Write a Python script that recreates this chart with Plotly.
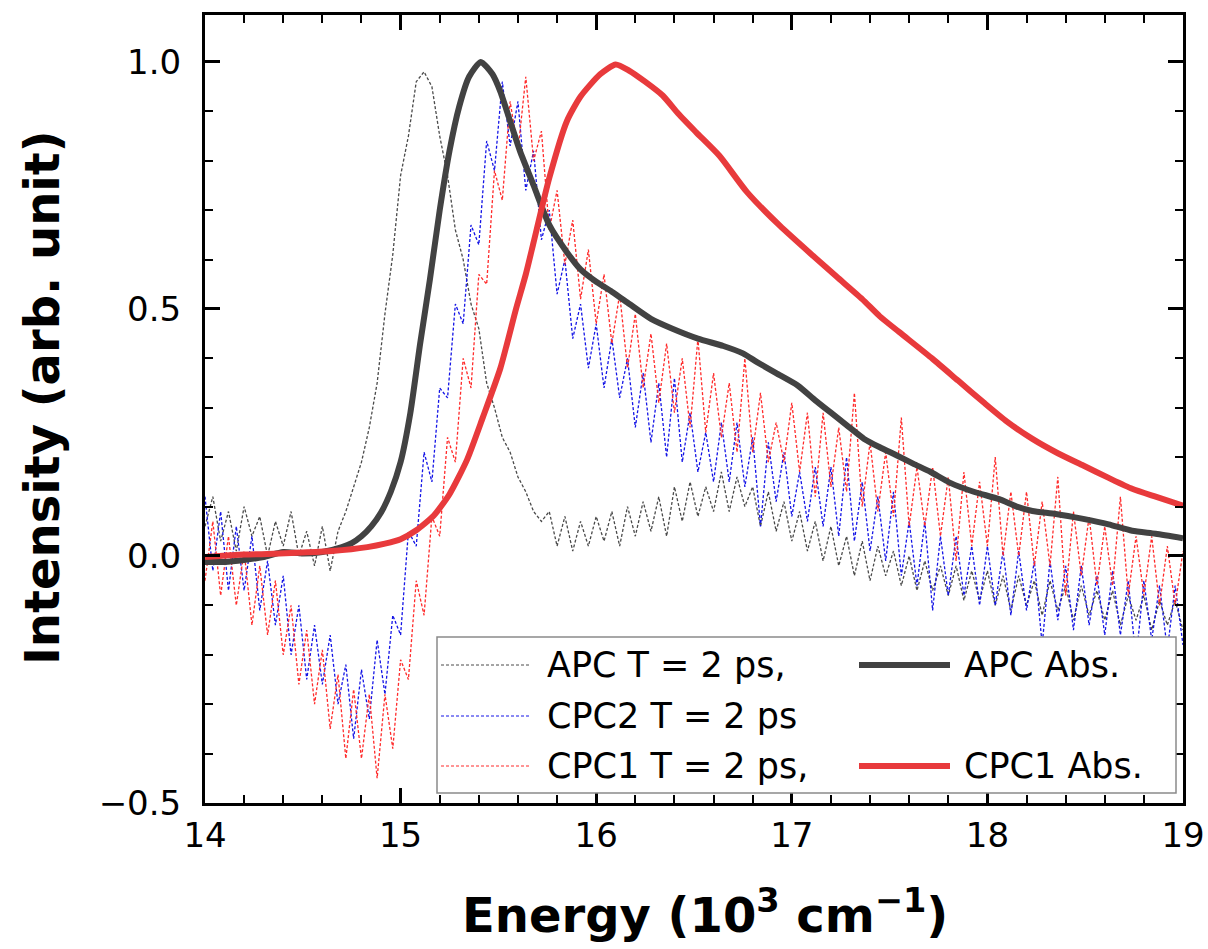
import plotly.graph_objects as go

# ---------------- data ----------------
# energy grid of the transient spectra (10^3 cm^-1), 0.04 step
energy_t = [round(14 + 0.04 * i, 2) for i in range(126)]

apc_t2 = [
    0.06, 0.12, 0.03, 0.09, 0.01, 0.10, 0.04, 0.08, 0.00, 0.07, 0.02, 0.09, 0.00, 0.05, -0.02, 0.06, -0.03, 0.05, 0.09, 0.14, 0.19, 0.26, 0.35, 0.49, 0.61,
    0.77, 0.85, 0.96, 0.98, 0.95, 0.85, 0.77, 0.66, 0.60, 0.51, 0.46, 0.35, 0.30, 0.24, 0.21, 0.16, 0.13, 0.09, 0.07, 0.09, 0.02, 0.08, 0.01, 0.07, 0.02,
    0.08, 0.03, 0.09, 0.02, 0.10, 0.04, 0.11, 0.05, 0.12, 0.04, 0.14, 0.07, 0.15, 0.08, 0.14, 0.09, 0.17, 0.09, 0.16, 0.10, 0.14, 0.06, 0.13, 0.05, 0.11,
    0.03, 0.09, 0.01, 0.07, -0.01, 0.06, -0.02, 0.04, -0.04, 0.03, -0.05, 0.02, -0.04, 0.01, -0.06, 0.00, -0.07, -0.01, -0.07, -0.02, -0.08, -0.02, -0.09, -0.03, -0.09,
    -0.03, -0.10, -0.04, -0.11, -0.04, -0.10, -0.05, -0.12, -0.05, -0.11, -0.06, -0.13, -0.06, -0.12, -0.07, -0.13, -0.07, -0.14, -0.08, -0.13, -0.08, -0.15, -0.09, -0.14, -0.09, -0.15,
]

cpc2_t2 = [
    0.12, -0.03, 0.09, -0.07, 0.06, -0.07, 0.04, -0.11, -0.01, -0.14, -0.04, -0.20, -0.10, -0.25, -0.14, -0.26, -0.16, -0.30, -0.22, -0.37, -0.23, -0.33, -0.17, -0.28, -0.12,
    -0.16, 0.05, 0.02, 0.21, 0.15, 0.34, 0.32, 0.51, 0.47, 0.67, 0.63, 0.84, 0.78, 0.96, 0.83, 0.92, 0.74, 0.82, 0.64, 0.70, 0.53, 0.60, 0.44, 0.51, 0.38,
    0.47, 0.34, 0.44, 0.32, 0.40, 0.26, 0.37, 0.23, 0.35, 0.20, 0.36, 0.19, 0.29, 0.17, 0.25, 0.15, 0.27, 0.15, 0.27, 0.14, 0.24, 0.06, 0.23, 0.11, 0.21,
    0.08, 0.17, 0.07, 0.18, 0.06, 0.18, 0.04, 0.20, 0.03, 0.15, 0.01, 0.12, -0.01, 0.13, -0.04, 0.07, -0.06, 0.07, -0.11, 0.04, -0.08, 0.04, -0.08, 0.02, -0.10,
    0.02, -0.10, 0.01, -0.12, 0.01, -0.11, -0.01, -0.18, -0.01, -0.13, -0.02, -0.15, -0.02, -0.14, -0.04, -0.16, -0.03, -0.16, -0.05, -0.21, -0.05, -0.17, -0.06, -0.19, -0.06, -0.18,
]

cpc1_t2 = [
    -0.05, 0.07, -0.08, 0.04, -0.10, 0.01, -0.14, -0.02, -0.16, -0.05, -0.20, -0.10, -0.26, -0.15, -0.30, -0.19, -0.35, -0.24, -0.41, -0.27, -0.41, -0.28, -0.45, -0.28, -0.39,
    -0.21, -0.25, -0.05, -0.12, 0.08, 0.04, 0.24, 0.19, 0.40, 0.34, 0.57, 0.55, 0.78, 0.72, 0.92, 0.82, 0.97, 0.80, 0.86, 0.66, 0.74, 0.59, 0.68, 0.52, 0.62,
    0.47, 0.57, 0.43, 0.53, 0.38, 0.49, 0.34, 0.45, 0.31, 0.43, 0.29, 0.40, 0.26, 0.44, 0.25, 0.37, 0.24, 0.35, 0.21, 0.40, 0.21, 0.33, 0.19, 0.27, 0.19,
    0.31, 0.17, 0.29, 0.12, 0.29, 0.14, 0.26, 0.13, 0.33, 0.10, 0.23, 0.09, 0.21, 0.08, 0.28, 0.06, 0.18, 0.06, 0.18, 0.04, 0.16, -0.01, 0.17, 0.02, 0.15,
    0.02, 0.20, 0.00, 0.13, 0.00, 0.13, -0.02, 0.11, -0.02, 0.16, -0.08, 0.09, -0.04, 0.08, -0.06, 0.06, -0.06, 0.12, -0.08, 0.04, -0.08, 0.04, -0.10, 0.02, -0.10, 0.01,
]

apc_abs_x = [14.00, 14.10, 14.20, 14.30, 14.40, 14.50, 14.60, 14.70, 14.75, 14.80, 14.85, 14.90, 14.95, 15.00,
             15.05, 15.10, 15.15, 15.20, 15.25, 15.30, 15.35, 15.41, 15.47, 15.51, 15.56, 15.61, 15.68, 15.76,
             15.85, 15.92, 16.00, 16.08, 16.17, 16.28, 16.39, 16.52, 16.65, 16.75, 16.82, 16.92, 17.03, 17.12,
             17.20, 17.28, 17.37, 17.45, 17.54, 17.62, 17.71, 17.81, 17.93, 18.06, 18.15, 18.23, 18.35, 18.49,
             18.62, 18.74, 18.86, 19.00]
apc_abs_y = [-0.012, -0.012, -0.008, -0.002, 0.008, 0.005, 0.008, 0.018, 0.026, 0.040, 0.060, 0.088, 0.130, 0.19,
             0.29, 0.43, 0.56, 0.70, 0.82, 0.91, 0.97, 1.00, 0.975, 0.94, 0.88, 0.82, 0.75, 0.67,
             0.615, 0.58, 0.555, 0.535, 0.51, 0.48, 0.46, 0.44, 0.425, 0.41, 0.393, 0.37, 0.345, 0.315,
             0.29, 0.265, 0.237, 0.22, 0.203, 0.187, 0.17, 0.148, 0.13, 0.115, 0.10, 0.091, 0.085, 0.075,
             0.064, 0.051, 0.045, 0.036]

cpc1_abs_x = [14.00, 14.20, 14.32, 14.50, 14.65, 14.83, 14.92, 15.00, 15.08, 15.17, 15.25, 15.34, 15.42, 15.51,
              15.59, 15.64, 15.68, 15.76, 15.85, 15.92, 16.02, 16.10, 16.17, 16.25, 16.34, 16.42, 16.51,
              16.63, 16.77, 16.94, 17.11, 17.23, 17.36, 17.45, 17.55, 17.72, 17.85, 17.98, 18.10, 18.23, 18.36,
              18.49, 18.62, 18.74, 18.86, 19.00]
cpc1_abs_y = [-0.002, 0.003, 0.004, 0.007, 0.010, 0.018, 0.025, 0.034, 0.052, 0.082, 0.125, 0.195, 0.28, 0.38,
              0.50, 0.57, 0.635, 0.765, 0.88, 0.93, 0.975, 0.995, 0.982, 0.96, 0.932, 0.895, 0.858,
              0.81, 0.737, 0.668, 0.607, 0.565, 0.52, 0.485, 0.453, 0.399, 0.355, 0.311, 0.272, 0.237, 0.208,
              0.183, 0.158, 0.136, 0.12, 0.102]

# legend labels
legend_left = ["APC T = 2 ps,", "CPC2 T = 2 ps", "CPC1 T = 2 ps,"]
legend_right = ["APC Abs.", "", "CPC1 Abs."]

# ---------------- style ----------------
C_GRAY_T = "#4a4a4a"
C_BLUE_T = "#1414e6"
C_RED_T = "#ff2a2a"
C_GRAY_ABS = "#424242"
C_RED_ABS = "#e83a3c"
DASH = "3px,2px"
FONT = "DejaVu Sans"

fig = go.Figure()
fig.add_trace(go.Scatter(x=energy_t, y=apc_t2, mode="lines", name=legend_left[0],
                         line=dict(color=C_GRAY_T, width=1.3, dash=DASH)))
fig.add_trace(go.Scatter(x=energy_t, y=cpc2_t2, mode="lines", name=legend_left[1],
                         line=dict(color=C_BLUE_T, width=1.3, dash=DASH)))
fig.add_trace(go.Scatter(x=energy_t, y=cpc1_t2, mode="lines", name=legend_left[2],
                         line=dict(color=C_RED_T, width=1.3, dash=DASH)))
fig.add_trace(go.Scatter(x=apc_abs_x, y=apc_abs_y, mode="lines", name=legend_right[0],
                         line=dict(color=C_GRAY_ABS, width=6, shape="spline", smoothing=0.6)))
fig.add_trace(go.Scatter(x=cpc1_abs_x, y=cpc1_abs_y, mode="lines", name=legend_right[2],
                         line=dict(color=C_RED_ABS, width=6, shape="spline", smoothing=0.6)))

# ---------------- manual legend (2 columns) ----------------
L, R, T, B = 205, 1183, 15, 803
def px(xp):
    return (xp - L) / (R - L)
def py(yp):
    return (B - yp) / (B - T)

shapes = [dict(type="rect", xref="paper", yref="paper",
               x0=px(437), x1=px(1176), y0=py(793), y1=py(637),
               fillcolor="white", line=dict(color="#8a8a8a", width=1.5), layer="above")]
rows_y = [665, 716, 766]
left_colors = [C_GRAY_T, C_BLUE_T, C_RED_T]
right_colors = [C_GRAY_ABS, None, C_RED_ABS]
annotations = []
for i, yy in enumerate(rows_y):
    shapes.append(dict(type="line", xref="paper", yref="paper", x0=px(441), x1=px(531),
                       y0=py(yy), y1=py(yy), layer="above",
                       line=dict(color=left_colors[i], width=1, dash=DASH)))
    annotations.append(dict(xref="paper", yref="paper", x=px(545), y=py(yy), text=legend_left[i],
                            showarrow=False, xanchor="left", yanchor="middle",
                            font=dict(family=FONT, size=35, color="black")))
    if right_colors[i] is not None:
        shapes.append(dict(type="line", xref="paper", yref="paper", x0=px(859), x1=px(950),
                           y0=py(yy), y1=py(yy), layer="above",
                           line=dict(color=right_colors[i], width=6)))
        annotations.append(dict(xref="paper", yref="paper", x=px(962), y=py(yy), text=legend_right[i],
                                showarrow=False, xanchor="left", yanchor="middle",
                                font=dict(family=FONT, size=35, color="black")))

# axis titles
annotations.append(dict(xref="paper", yref="paper", x=px(705), y=py(912),
                        text="Energy (10<sup>3</sup> cm<sup>−1</sup>)", showarrow=False,
                        xanchor="center", yanchor="middle",
                        font=dict(family=FONT, size=48, color="black", weight="bold")))
annotations.append(dict(xref="paper", yref="paper", x=px(42), y=py(398),
                        text="Intensity (arb. unit)", showarrow=False, textangle=-90,
                        xanchor="center", yanchor="middle",
                        font=dict(family=FONT, size=48, color="black", weight="bold")))

axis_common = dict(showline=True, linewidth=3, linecolor="black", mirror="allticks",
                   ticks="inside", ticklen=15, tickwidth=2.5, tickcolor="black",
                   showgrid=False, zeroline=False, automargin=False,
                   tickfont=dict(family=FONT, size=34, color="black"))

fig.update_layout(
    width=1208, height=949,
    margin=dict(l=L, r=1208 - R, t=T, b=949 - B),
    paper_bgcolor="white", plot_bgcolor="white",
    showlegend=False,
    shapes=shapes, annotations=annotations,
    xaxis=dict(range=[14, 19], tick0=14, dtick=1, ticklabelstandoff=0,
               minor=dict(dtick=0.2, ticks="inside", ticklen=8, tickwidth=2, tickcolor="black"),
               **axis_common),
    yaxis=dict(range=[-0.5, 1.095], tick0=0, dtick=0.5, tickformat=".1f", ticklabelstandoff=14,
               minor=dict(dtick=0.1, ticks="inside", ticklen=8, tickwidth=2, tickcolor="black"),
               **axis_common),
)

fig.write_html("out.html")
